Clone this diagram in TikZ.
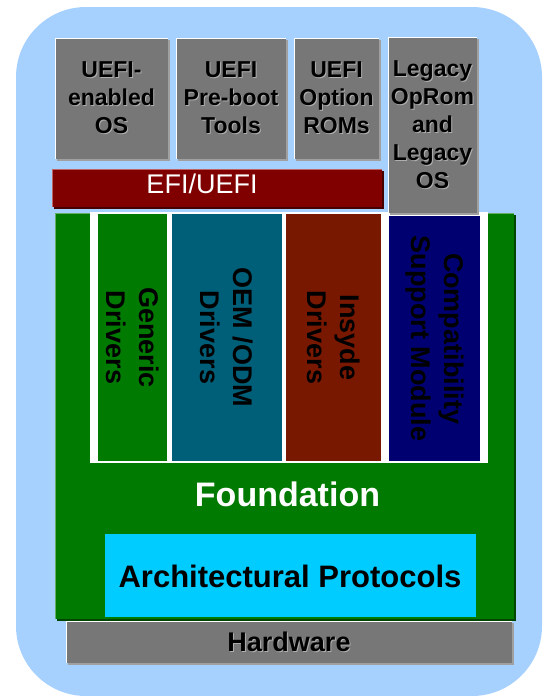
\documentclass[tikz,border=0pt]{standalone}
\usepackage{fontspec}
\setmainfont{Liberation Sans}
\usepackage{tikz}

\definecolor{bgblue}{RGB}{166,209,255}
\definecolor{boxgray}{RGB}{119,119,119}
\definecolor{grayshade}{RGB}{160,160,160}
\definecolor{txtshade}{RGB}{175,175,175}
\definecolor{efired}{RGB}{128,0,0}
\definecolor{efishade}{RGB}{70,0,0}
\definecolor{efilight}{RGB}{190,100,100}
\definecolor{fgreen}{RGB}{0,122,0}
\definecolor{fshade}{RGB}{0,70,0}
\definecolor{flight}{RGB}{100,175,100}
\definecolor{oemteal}{RGB}{0,95,120}
\definecolor{insyderust}{RGB}{120,24,0}
\definecolor{csmnavy}{RGB}{0,0,112}
\definecolor{archcyan}{RGB}{0,204,255}

\newcommand{\shtxt}[1]{\rlap{\kern1pt\raisebox{-1pt}{\textcolor{txtshade}{#1}}}#1}

\begin{document}
\begin{tikzpicture}[x=1pt,y=-1pt,
   toplabel/.style={align=center, font=\fontsize{23}{28}\selectfont\bfseries},
   drvlabel/.style={rotate=-90, align=center, font=\fontsize{27}{33}\selectfont\bfseries}]

   \useasboundingbox (0,0) rectangle (547,696);
   \fill[bgblue, rounded corners=70pt] (16,7) rectangle (542,696);

   % applications on top
   \fill[grayshade] (57,40) rectangle (170,161);
   \fill[boxgray] (55,38) rectangle (168,159);
   \draw[white, line width=1pt] (55,159) -- (55,38) -- (168,38);

   \fill[grayshade] (178,40) rectangle (288,161);
   \fill[boxgray] (176,38) rectangle (286,159);
   \draw[white, line width=1pt] (176,159) -- (176,38) -- (286,38);

   \fill[grayshade] (296,40) rectangle (381,161);
   \fill[boxgray] (294,38) rectangle (379,159);
   \draw[white, line width=1pt] (294,159) -- (294,38) -- (379,38);

   % EFI/UEFI bar
   \fill[efishade] (54,171) rectangle (384,209);
   \fill[efired] (52,169) rectangle (382,207);
   \draw[efilight, line width=1pt] (52,207) -- (52,169) -- (382,169);

   % foundation block
   \fill[fshade] (57,215) rectangle (516,621);
   \fill[fgreen] (55,213) rectangle (514,619);
   \draw[flight, line width=1pt] (55,619) -- (55,213) -- (514,213);

   % driver columns
   \fill[white] (90,212) rectangle (488,463);
   \fill[fgreen] (98,214) rectangle (167,461);
   \fill[oemteal] (172,214) rectangle (282,461);
   \fill[insyderust] (286,214) rectangle (381,461);
   \fill[csmnavy] (389,216) rectangle (480,461);

   % legacy stack
   \fill[grayshade] (390,39) rectangle (479,215);
   \fill[boxgray] (388,37) rectangle (477,213);
   \draw[white, line width=1pt] (388,213) -- (388,37) -- (477,37);

   \fill[archcyan] (105,534) rectangle (476,617);

   % hardware
   \fill[grayshade] (68,623) rectangle (514,665);
   \fill[boxgray] (66,621) rectangle (512,663);
   \draw[white, line width=1pt] (66,663) -- (66,621) -- (512,621);

   \node[toplabel] (uefios) at (111.5,98.5) {\shtxt{UEFI-}\\\shtxt{enabled}\\\shtxt{OS}};
   \node[toplabel] (preboot) at (231,98.5) {\shtxt{UEFI}\\\shtxt{Pre-boot}\\\shtxt{Tools}};
   \node[toplabel] (oprom) at (336.5,98.5) {\shtxt{UEFI}\\\shtxt{Option}\\\shtxt{ROMs}};
   \node[toplabel] (legacy) at (432.5,125) {\shtxt{Legacy}\\\shtxt{OpRom}\\\shtxt{and}\\\shtxt{Legacy}\\\shtxt{OS}};
   \node[white, font=\fontsize{27}{32}\selectfont] (efi) at (202,184) {EFI/UEFI};

   \node[drvlabel] (generic) at (132.5,337.5) {Generic\\Drivers};
   \node[drvlabel] (oem) at (227,337.5) {OEM /ODM\\Drivers};
   \node[drvlabel] (insyde) at (333.5,337.5) {Insyde\\Drivers};
   \node[drvlabel] (csm) at (434.5,338.5) {Compatibility\\Support Module};

   \node[white, font=\fontsize{34}{40}\selectfont\bfseries] (foundation) at (287.5,494) {Foundation};
   \node[font=\fontsize{31}{36}\selectfont\bfseries] (arch) at (290,576.5) {Architectural Protocols};
   \node[font=\fontsize{27}{32}\selectfont\bfseries] (hardware) at (289,642) {\shtxt{Hardware}};

\end{tikzpicture}
\end{document}
